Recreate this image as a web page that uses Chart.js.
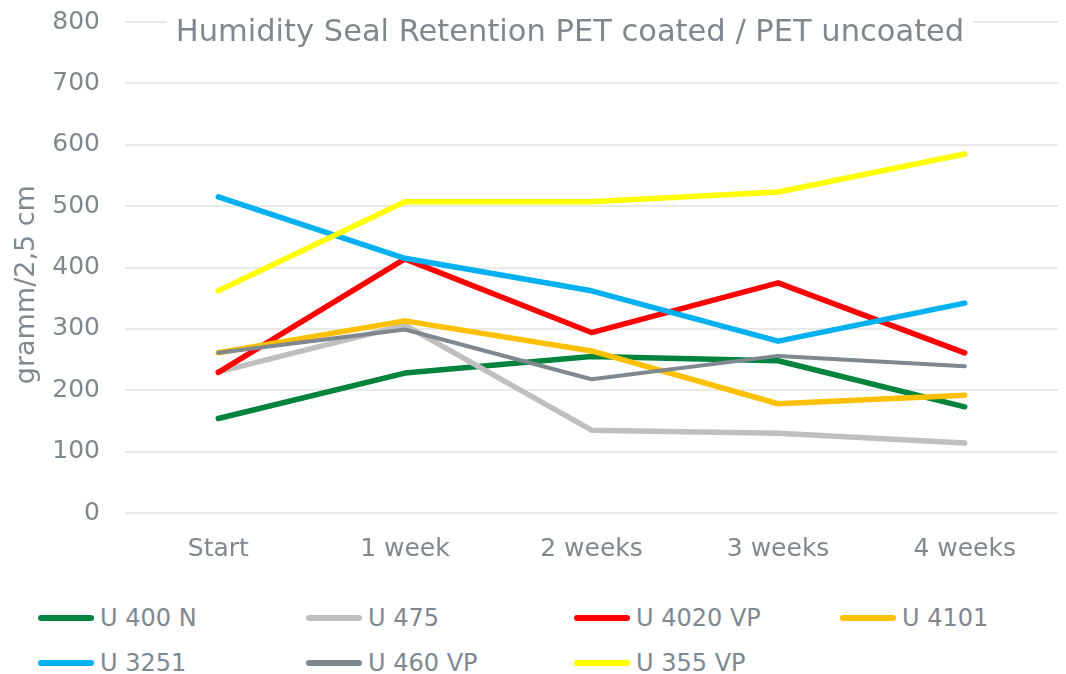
<!DOCTYPE html>
<html>
<head>
<meta charset="utf-8">
<script src="https://cdn.jsdelivr.net/npm/chart.js@4.4.1/dist/chart.umd.min.js"></script>
<style>
  body { margin: 0; background: #fff; font-family: "DejaVu Sans", sans-serif; }
  #wrap { position: relative; width: 1066px; height: 590px; }
  #legend {
    display: grid;
    grid-template-columns: 268px 268px 266px 226px;
    grid-auto-rows: 45px;
    padding-left: 38px;
    padding-top: 5px;
    color: #80888f;
    font-size: 24px;
  }
  .item { display: flex; align-items: center; }
  .sw { display: inline-block; width: 56px; height: 6px; border-radius: 3px; margin-right: 6px; }
</style>
</head>
<body>
<div id="wrap"><canvas id="c"></canvas></div>
<div id="legend"></div>
<script>
var labels = ["Start", "1 week", "2 weeks", "3 weeks", "4 weeks"];

var u400n   = [154, 228, 255, 248, 173];
var u475    = [230, 306, 135, 130, 114];
var u4020vp = [229, 414, 294, 375, 261];
var u4101   = [261, 313, 264, 178, 192];
var u3251   = [515, 415, 362, 280, 342];
var u460vp  = [261, 299, 218, 256, 239];
var u355vp  = [362, 507, 507, 523, 585];

var names  = ["U 400 N", "U 475", "U 4020 VP", "U 4101", "U 3251", "U 460 VP", "U 355 VP"];
var series = [u400n, u475, u4020vp, u4101, u3251, u460vp, u355vp];
var colors = ["#00843d", "#bfbfbf", "#ff0000", "#ffc000", "#00b0f0", "#7f878f", "#ffff00"];
var widths = [5.5, 5.5, 5.5, 5.5, 5.5, 4, 5.5];

var titleText = "Humidity Seal Retention PET coated / PET uncoated";
var textColor = "#80888f";

// excel draws later series on top, chart.js draws lowest order on top
var datasets = series.map(function (s, i) {
  return {
    label: names[i],
    data: s,
    borderColor: colors[i],
    backgroundColor: colors[i],
    borderWidth: widths[i],
    borderCapStyle: "round",
    borderJoinStyle: "round",
    pointRadius: 0,
    tension: 0,
    order: series.length - i
  };
});

// title sits inside the plot, on a white patch over the top gridline
var innerTitle = {
  id: "innerTitle",
  beforeDatasetsDraw: function (chart) {
    var ctx = chart.ctx;
    ctx.save();
    ctx.font = '30.5px "DejaVu Sans"';
    var w = ctx.measureText(titleText).width;
    var cx = 570, cy = 33;
    ctx.fillStyle = "#fff";
    ctx.fillRect(cx - w / 2 - 9, cy - 20, w + 18, 40);
    ctx.fillStyle = textColor;
    ctx.textAlign = "center";
    ctx.textBaseline = "middle";
    ctx.fillText(titleText, cx, cy);
    ctx.restore();
  }
};

Chart.defaults.font.family = '"DejaVu Sans"';
Chart.defaults.color = textColor;

new Chart(document.getElementById("c"), {
  type: "line",
  data: { labels: labels, datasets: datasets },
  options: {
    responsive: true,
    maintainAspectRatio: false,
    animation: false,
    layout: { padding: { top: 22, right: 8, left: 0, bottom: 0 } },
    plugins: {
      legend: { display: false },
      title: { display: false },
      tooltip: { enabled: false }
    },
    scales: {
      x: {
        offset: true,
        grid: { display: false, drawTicks: false },
        border: { display: false },
        ticks: { font: { size: 25 }, padding: 21, maxRotation: 0 },
        afterFit: function (s) { s.height = 77; }
      },
      y: {
        min: 0,
        max: 800,
        ticks: { stepSize: 100, font: { size: 25 }, padding: 25 },
        grid: { color: "#e9e9e9", lineWidth: 2, drawTicks: false },
        border: { display: false },
        // trailing spaces nudge the rotated title a bit lower, as in the original
        title: { display: true, text: "gramm/2,5 cm    ", font: { size: 27 }, padding: { top: 11, bottom: 0 } },
        afterFit: function (s) {
          s.width = 125;
          s.paddingTop = 0;
          s.paddingBottom = 0;
        }
      }
    }
  },
  plugins: [innerTitle]
});

var lg = document.getElementById("legend");
names.forEach(function (n, i) {
  var d = document.createElement("div");
  d.className = "item";
  d.innerHTML = '<span class="sw" style="background:' + colors[i] + '"></span><span>' + n + '</span>';
  lg.appendChild(d);
});
</script>
</body>
</html>
